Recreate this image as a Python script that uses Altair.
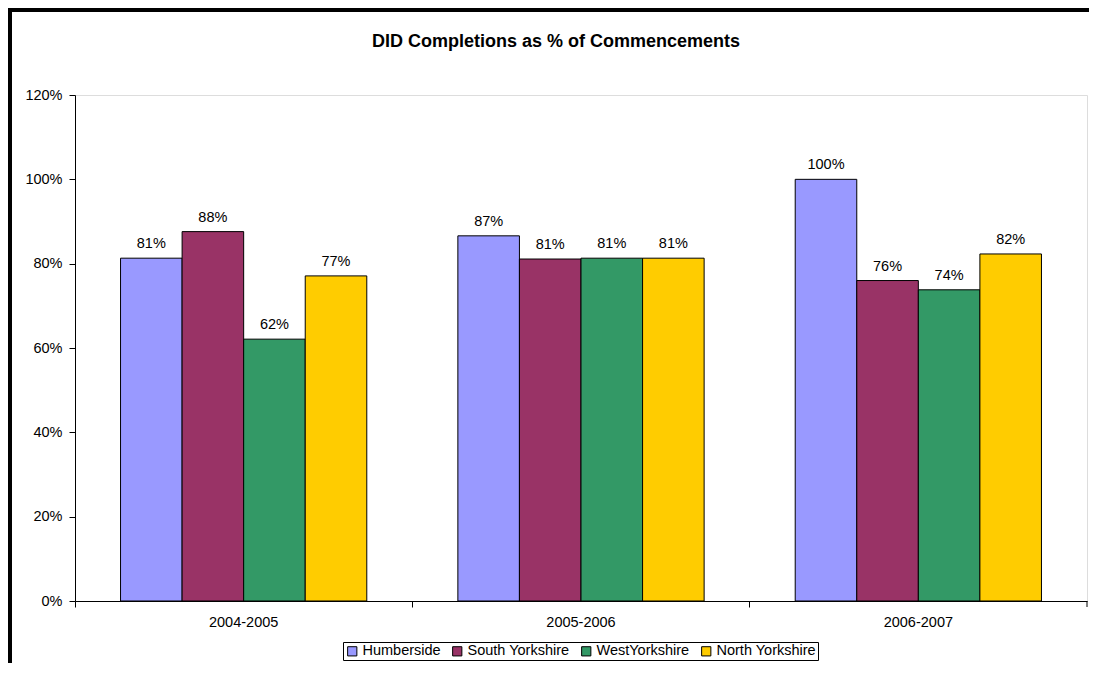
import altair as alt
import pandas as pd

title_text = "DID Completions as % of Commencements"
periods = ["2004-2005", "2005-2006", "2006-2007"]
regions = ["Humberside", "South Yorkshire", "WestYorkshire", "North Yorkshire"]
colors = ["#9999FF", "#993366", "#339966", "#FFCC00"]
humberside = [0.813, 0.866, 1.000]
south_yorkshire = [0.876, 0.811, 0.760]
west_yorkshire = [0.621, 0.813, 0.738]
north_yorkshire = [0.771, 0.813, 0.823]
y_ticks = [0, 0.2, 0.4, 0.6, 0.8, 1.0, 1.2]

series = [humberside, south_yorkshire, west_yorkshire, north_yorkshire]
rows = []
for r, vals in zip(regions, series):
    for p, v in zip(periods, vals):
        rows.append({"period": p, "region": r, "value": v})
df = pd.DataFrame(rows)

FONT = "Liberation Sans"
PAD_IN = 0.27

x_enc = alt.X("period:N", sort=periods, title=None,
              scale=alt.Scale(paddingInner=PAD_IN, paddingOuter=PAD_IN / 2),
              axis=alt.Axis(bandPosition=-(PAD_IN / 2) / (1 - PAD_IN), labelAngle=0,
                            tickSize=6, labelPadding=8,
                            labelFontSize=14.5, labelFont=FONT, labelColor="black",
                            domainColor="black", tickColor="black", grid=False))
xoff = alt.XOffset("region:N", sort=regions,
                   scale=alt.Scale(paddingInner=0, paddingOuter=0))
y_enc = alt.Y("value:Q", title=None,
              scale=alt.Scale(domain=[0, 1.2], nice=False),
              axis=alt.Axis(values=y_ticks, format=".0%", tickSize=6, labelPadding=7,
                            labelFontSize=14.5, labelFont=FONT, labelColor="black",
                            domainColor="black", tickColor="black", grid=False))

base = alt.Chart(df)
bars = base.mark_bar(stroke="black", strokeWidth=1).encode(
    x=x_enc, xOffset=xoff, y=y_enc,
    color=alt.Color("region:N", sort=regions,
                    scale=alt.Scale(domain=regions, range=colors),
                    legend=alt.Legend(title=None, orient="none", direction="horizontal",
                                      legendX=268, legendY=547, columns=4,
                                      symbolType="square", symbolSize=85,
                                      symbolStrokeColor="black", symbolStrokeWidth=1,
                                      labelFontSize=14.5, labelFont=FONT, labelColor="black",
                                      labelOffset=3, columnPadding=9, padding=2,
                                      strokeColor="black", fillColor="white")),
)
labels = base.mark_text(baseline="alphabetic", dy=-10, fontSize=14.5, font=FONT,
                        color="black").encode(
    x=alt.X("period:N", sort=periods), xOffset=xoff, y="value:Q",
    text=alt.Text("value:Q", format=".0%"),
)

one = pd.DataFrame({"t": [title_text]})
title = alt.Chart(one).mark_text(fontSize=18, fontWeight="bold", font=FONT,
                                 color="black", baseline="alphabetic").encode(
    text="t:N", x=alt.value(481), y=alt.value(-48))
frame_left = alt.Chart(one).mark_rule(color="black", strokeWidth=4).encode(
    x=alt.value(-65), y=alt.value(-87), y2=alt.value(580))
frame_top = alt.Chart(one).mark_rule(color="black", strokeWidth=4).encode(
    y=alt.value(-85), x=alt.value(-67), x2=alt.value(1030))
end_tick = alt.Chart(one).mark_rule(color="black", strokeWidth=1).encode(
    x=alt.value(1012), y=alt.value(506), y2=alt.value(512))

chart = alt.layer(bars, labels, title, frame_left, frame_top, end_tick).properties(
    width=1012, height=506,
    autosize=alt.AutoSizeParams(type="none"),
    padding={"left": 67, "top": 87, "right": 2, "bottom": 62},
).configure_view(stroke="#909090", strokeWidth=2).configure(font=FONT, background="white")

chart.save("out.html", embed_options={"renderer": "svg", "actions": False})
